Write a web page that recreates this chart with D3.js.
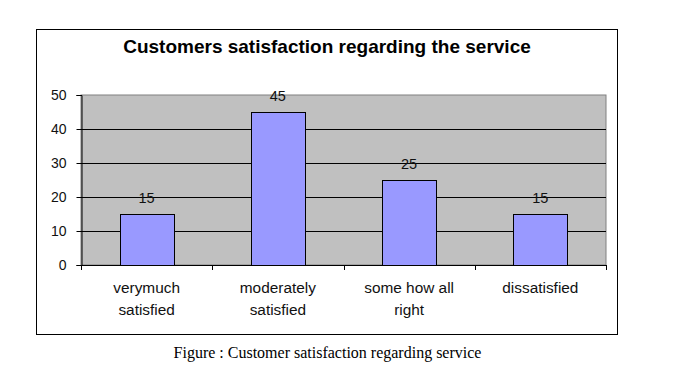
<!DOCTYPE html>
<html>
<head>
<meta charset="utf-8">
<script src="https://cdn.jsdelivr.net/npm/d3@7"></script>
<style>
  body { margin: 0; background: #fff; }
  svg { display: block; }
</style>
</head>
<body>
<div id="chart"></div>
<script>
// chart data
var categories = [["verymuch", "satisfied"], ["moderately", "satisfied"], ["some how all", "right"], ["dissatisfied"]];
var values = [15, 45, 25, 15];
var yTicks = [0, 10, 20, 30, 40, 50];
var title = "Customers satisfaction regarding the service";
var caption = "Figure : Customer satisfaction regarding service";

var W = 679, H = 374;
var plot = { left: 81, right: 606, top: 95, bottom: 265 };
var sans = "'Liberation Sans', Arial, sans-serif";

var svg = d3.select("#chart").append("svg")
    .attr("width", W)
    .attr("height", H);

// outer chart frame
svg.append("rect")
    .attr("x", 36.5).attr("y", 29.5)
    .attr("width", 581).attr("height", 305)
    .attr("fill", "#fff")
    .attr("stroke", "#000");

svg.append("text")
    .attr("x", 327).attr("y", 53)
    .attr("text-anchor", "middle")
    .style("font", "bold 19px " + sans)
    .text(title);

var keys = categories.map(function (d) { return d.join(" "); });
var x = d3.scaleBand().domain(keys).range([plot.left, plot.right]).paddingInner(0.59).paddingOuter(0.295);
var xCat = d3.scaleBand().domain(keys).range([plot.left, plot.right]);
var y = d3.scaleLinear().domain([0, 50]).range([plot.bottom, plot.top]);

// plot area
svg.append("rect")
    .attr("x", plot.left).attr("y", plot.top)
    .attr("width", plot.right - plot.left).attr("height", plot.bottom - plot.top)
    .attr("fill", "#c0c0c0")
    .attr("stroke", "#808080");

// gridlines
svg.append("g").selectAll("line")
    .data(yTicks.filter(function (t) { return t > 0 && t < 50; }))
    .enter().append("line")
    .attr("x1", plot.left).attr("x2", plot.right)
    .attr("y1", function (d) { return Math.round(y(d)) + 0.5; })
    .attr("y2", function (d) { return Math.round(y(d)) + 0.5; })
    .attr("stroke", "#000");

// bars
svg.append("g").selectAll("rect")
    .data(values)
    .enter().append("rect")
    .attr("x", function (d, i) { return Math.round(x(keys[i])) + 0.5; })
    .attr("y", function (d) { return Math.round(y(d)) + 0.5; })
    .attr("width", Math.round(x.bandwidth()))
    .attr("height", function (d) { return Math.round(y(0)) - Math.round(y(d)); })
    .attr("fill", "#9999ff")
    .attr("stroke", "#000");

// value labels
svg.append("g").selectAll("text")
    .data(values)
    .enter().append("text")
    .attr("x", function (d, i) { return x(keys[i]) + x.bandwidth() / 2; })
    .attr("y", function (d) { return y(d) - 11; })
    .attr("text-anchor", "middle")
    .style("font", "14.5px " + sans)
    .attr("fill", "#111")
    .text(function (d) { return d; });

// y axis
var yAxis = svg.append("g")
    .attr("transform", "translate(" + (plot.left + 0.5) + ",0)")
    .call(d3.axisLeft(y).tickValues(yTicks).tickSize(5).tickPadding(10));
yAxis.selectAll("text").style("font", "14px " + sans).attr("fill", "#111");
yAxis.selectAll("line,path").attr("stroke", "#000");

// x axis: ticks at category boundaries
var xAxis = svg.append("g");
xAxis.append("line")
    .attr("x1", plot.left).attr("x2", plot.right)
    .attr("y1", plot.bottom + 0.5).attr("y2", plot.bottom + 0.5)
    .attr("stroke", "#000");
xAxis.selectAll(".tick")
    .data(keys.concat([null]))
    .enter().append("line")
    .attr("x1", function (d) { return d ? Math.round(xCat(d)) + 0.5 : plot.right + 0.5; })
    .attr("x2", function (d) { return d ? Math.round(xCat(d)) + 0.5 : plot.right + 0.5; })
    .attr("y1", plot.bottom).attr("y2", plot.bottom + 5)
    .attr("stroke", "#000");

var labels = svg.append("g").selectAll("text")
    .data(categories)
    .enter().append("text")
    .attr("x", function (d, i) { return xCat(keys[i]) + xCat.bandwidth() / 2; })
    .attr("y", 293)
    .attr("text-anchor", "middle")
    .style("font", "15.4px " + sans)
    .attr("fill", "#111");
labels.selectAll("tspan")
    .data(function (d) { return d; })
    .enter().append("tspan")
    .attr("x", function () { return d3.select(this.parentNode).attr("x"); })
    .attr("dy", function (d, i) { return i ? 21.5 : 0; })
    .text(function (d) { return d; });

svg.append("text")
    .attr("x", 327.5).attr("y", 358)
    .attr("text-anchor", "middle")
    .style("font", "16px 'Liberation Serif', 'Times New Roman', serif")
    .text(caption);
</script>
</body>
</html>
